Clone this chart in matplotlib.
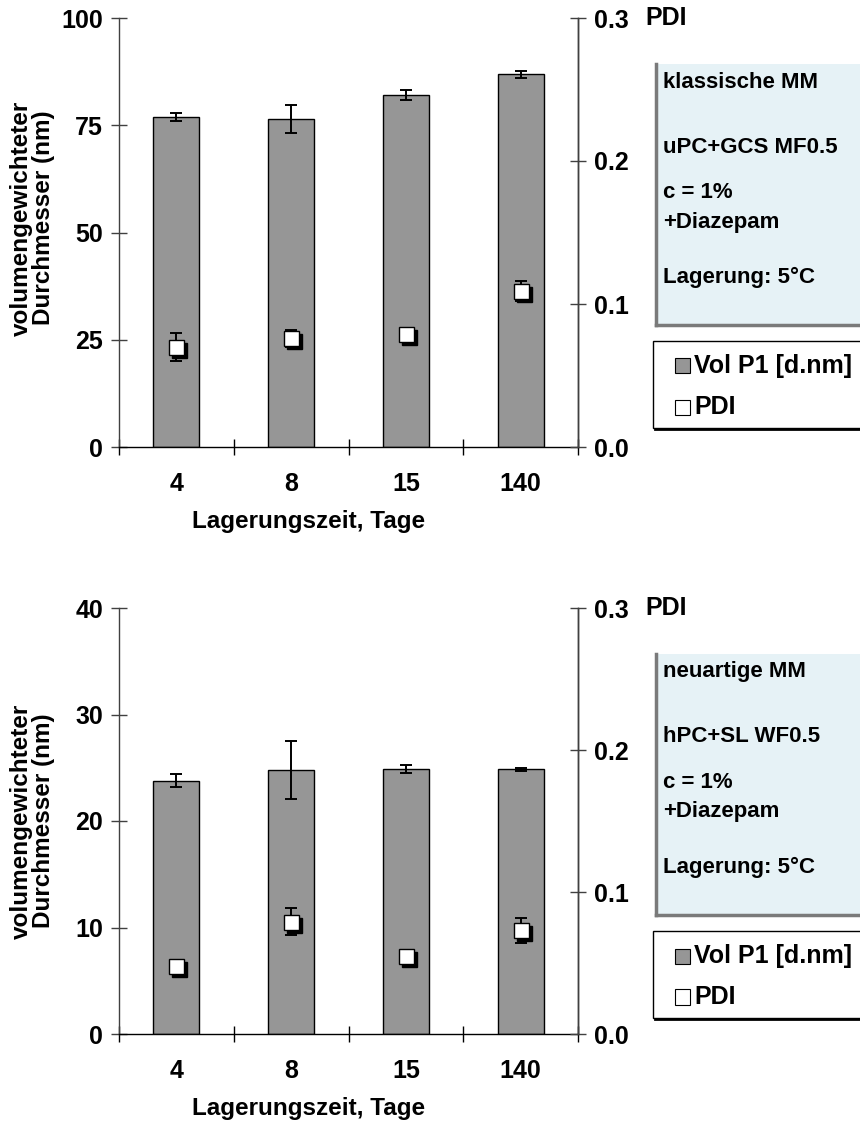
import matplotlib
matplotlib.use("Agg")
import matplotlib.pyplot as plt
import matplotlib.transforms as mtransforms
from matplotlib.patches import Rectangle
from matplotlib.lines import Line2D

plt.rcParams['font.family'] = ['Liberation Sans', 'DejaVu Sans']
plt.rcParams['font.weight'] = 'bold'

# --- Daten ---
tage = ['4', '8', '15', '140']

vol_oben = [77.0, 76.5, 82.1, 86.9]
vol_oben_err = [0.9, 3.2, 1.1, 0.8]
pdi_oben = [0.070, 0.076, 0.079, 0.109]
pdi_oben_err = [0.010, 0.006, 0.002, 0.007]

vol_unten = [23.8, 24.8, 24.9, 24.85]
vol_unten_err = [0.6, 2.7, 0.35, 0.15]
pdi_unten = [0.048, 0.079, 0.055, 0.073]
pdi_unten_err = [0.002, 0.0096, 0.002, 0.009]

info_oben = ['klassische MM', 'uPC+GCS MF0.5', 'c = 1%', '+Diazepam', 'Lagerung: 5°C']
info_unten = ['neuartige MM', 'hPC+SL WF0.5', 'c = 1%', '+Diazepam', 'Lagerung: 5°C']

W, H = 860, 1126
FS_TICK = 18      # Achsenbeschriftung (Zahlen)
FS_LABEL = 17.5   # Achsentitel
FS_BOX = 16       # Info-Kasten
FS_LEG = 18       # Legende
BAR_GRAY = '#969696'
BOX_BLUE = '#e6f2f6'


def fx(px):
    return px / W


def fy(py):
    return 1 - py / H


def panel(fig, top, bottom, vol, vol_err, pdi, pdi_err, ymax, yticks, info, yl_center, xl_y):
    ax = fig.add_axes([fx(119), fy(bottom), fx(578) - fx(119), fy(top) - fy(bottom)])
    ax2 = ax.twinx()
    ax.set_zorder(1)
    ax2.set_zorder(2)
    ax.patch.set_visible(False)
    ax2.patch.set_visible(False)

    x = list(range(len(tage)))
    ax.bar(x, vol, width=0.4, color=BAR_GRAY, edgecolor='black', linewidth=1.0)
    ax.errorbar(x, vol, yerr=vol_err, fmt='none', ecolor='black',
                elinewidth=1.4, capsize=4, capthick=1.4)

    ax2.errorbar(x, pdi, yerr=pdi_err, fmt='none', ecolor='black',
                 elinewidth=1.4, capsize=4, capthick=1.4, zorder=2)
    shadow = mtransforms.offset_copy(ax2.transData, fig=fig, x=3, y=-3, units='dots')
    ax2.plot(x, pdi, 's', ms=10.8, color='black', transform=shadow, zorder=3)
    ax2.plot(x, pdi, 's', ms=10.8, mfc='white', mec='black', mew=1.0, zorder=4)

    ax.set_xlim(-0.5, len(tage) - 0.5)
    ax.set_ylim(0, ymax)
    ax2.set_ylim(0, 0.3)
    ax.set_yticks(yticks)
    ax2.set_yticks([0.0, 0.1, 0.2, 0.3])
    ax2.set_yticklabels(['0.0', '0.1', '0.2', '0.3'])
    ax.set_xticks(x)
    ax.set_xticklabels(tage)
    ax.set_xticks([i - 0.5 for i in range(len(tage) + 1)], minor=True)

    for a in (ax, ax2):
        a.spines['top'].set_visible(False)
        for s in a.spines.values():
            s.set_linewidth(1.0)
    ax.spines['left'].set_color('#404040')
    ax2.spines['right'].set_color('#404040')
    ax2.spines['left'].set_visible(False)
    ax2.spines['bottom'].set_visible(False)

    ax.tick_params(axis='y', direction='inout', length=11, width=1.0, color='#404040',
                   labelsize=FS_TICK, pad=6)
    ax2.tick_params(axis='y', direction='inout', length=11, width=1.0, color='#404040',
                    labelsize=FS_TICK, pad=6)
    ax.tick_params(axis='x', which='major', length=0, labelsize=FS_TICK, pad=18)
    ax.tick_params(axis='x', which='minor', direction='inout', length=12, width=1.0)

    ax2.annotate('PDI', xy=(1, 1), xycoords='axes fraction', xytext=(67, 0),
                 textcoords='offset pixels', ha='left', va='center', fontsize=FS_TICK,
                 fontweight='bold')

    fig.text(fx(32), fy(yl_center), 'volumengewichteter\nDurchmesser (nm)', rotation=90,
             ha='center', va='center', fontsize=FS_LABEL, fontweight='bold', linespacing=0.95,
             multialignment='center')
    fig.text(fx(309), fy(xl_y), 'Lagerungszeit, Tage', ha='center', va='center',
             fontsize=FS_LABEL, fontweight='bold')

    # Info-Kasten
    off = top - 18
    b_top, b_bot, b_left = 64 + off, 325 + off, 656
    fig.patches.append(Rectangle((fx(b_left), fy(b_bot)), fx(W) - fx(b_left) + 0.01,
                                 fy(b_top) - fy(b_bot), transform=fig.transFigure,
                                 facecolor=BOX_BLUE, edgecolor='none'))
    fig.lines.append(Line2D([fx(b_left), fx(b_left)], [fy(b_top), fy(b_bot)],
                            transform=fig.transFigure, color='#7a7a7a', lw=2.5))
    fig.lines.append(Line2D([fx(b_left), fx(W)], [fy(b_bot), fy(b_bot)],
                            transform=fig.transFigure, color='#7a7a7a', lw=2.5))
    for txt, py in zip(info, [82, 147, 192, 222, 277]):
        fig.text(fx(663), fy(py + off), txt, ha='left', va='center', fontsize=FS_BOX,
                 fontweight='bold')

    # Legende
    l_top, l_bot, l_left = 341 + off, 428 + off, 653
    fig.patches.append(Rectangle((fx(l_left), fy(l_bot)), fx(W) - fx(l_left) + 0.01,
                                 fy(l_top) - fy(l_bot), transform=fig.transFigure,
                                 facecolor='white', edgecolor='black', linewidth=1.0))
    fig.lines.append(Line2D([fx(l_left + 2), fx(W)], [fy(l_bot + 1), fy(l_bot + 1)],
                            transform=fig.transFigure, color='black', lw=2.0))
    for (label, fc), py in zip([('Vol P1 [d.nm]', BAR_GRAY), ('PDI', 'white')], [366, 407]):
        fig.patches.append(Rectangle((fx(675), fy(py + off + 7.5)), fx(690) - fx(675),
                                     fy(py + off - 7.5) - fy(py + off + 7.5),
                                     transform=fig.transFigure, facecolor=fc,
                                     edgecolor='black', linewidth=0.8))
        fig.text(fx(694), fy(py + off), label, ha='left', va='center', fontsize=FS_LEG,
                 fontweight='bold')
    return ax, ax2


fig = plt.figure(figsize=(W / 100, H / 100), dpi=100)
panel(fig, 18, 447, vol_oben, vol_oben_err, pdi_oben, pdi_oben_err, 100,
      [0, 25, 50, 75, 100], info_oben, 218, 521)
panel(fig, 608, 1034, vol_unten, vol_unten_err, pdi_unten, pdi_unten_err, 40,
      [0, 10, 20, 30, 40], info_unten, 821, 1109)

fig.savefig('out.png', dpi=100)
